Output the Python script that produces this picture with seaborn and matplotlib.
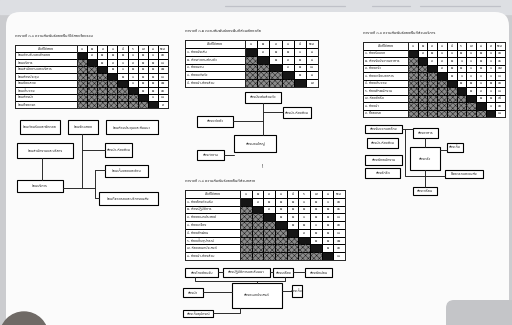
import numpy as np
import seaborn as sns
import matplotlib.pyplot as plt
from matplotlib import font_manager
from matplotlib.colors import ListedColormap
from matplotlib.patches import Rectangle, Circle, FancyBboxPatch

# ข้อมูลตาราง (ค่าความสัมพันธ์อ่านจากภาพโดยประมาณ)
t1_title = "ตารางที่ ๓.๑ ความสัมพันธ์ของพื้นที่ใช้สอยโดยรวม"
t1_labels = ["ส่วนต้อนรับและพักคอย", "ส่วนบริการ", "ส่วนสำนักงานและบริหาร", "ส่วนห้องประชุม",
             "ส่วนจัดแสดง", "ส่วนเก็บของ", "ส่วนห้องน้ำ", "ส่วนที่จอดรถ"]
t1_header = ["๑", "๒", "๓", "๔", "๕", "๖", "๗", "๘", "รวม"]
t1_rel = ["๓ ๒ ๒ ๒ ๑ ๒ ๑", "๒ ๓ ๑ ๓ ๒ ๒", "๒ ๑ ๒ ๒ ๒", "๒ ๑ ๒ ๒", "๑ ๒ ๒", "๒ ๒", "๑", ""]
t1_total = ["๑๓", "๑๔", "๑๒", "๑๑", "๑๒", "๑๓", "๑๐", "๙"]

t2_title = "ตารางที่ ๓.๒ ความสัมพันธ์ของพื้นที่ส่วนพักอาศัย"
t2_labels = ["๑. ห้องนั่งเล่น", "๒. ห้องทำงานส่วนตัว", "๓. ห้องนอน", "๔. ห้องแต่งตัว", "๕. ห้องน้ำ-ห้องส้วม"]
t2_header = ["๑", "๒", "๓", "๔", "๕", "รวม"]
t2_rel = ["๓ ๒ ๒ ๑", "๒ ๓ ๒", "๓ ๒", "๒", ""]
t2_total = ["๘", "๘", "๑๐", "๘", "๗"]

t3_title = "ตารางที่ ๓.๓ ความสัมพันธ์ของพื้นที่ส่วนบริการ"
t3_labels = ["๑. ห้องรับแขก", "๒. ห้องรับประทานอาหาร", "๓. ห้องครัว", "๔. ห้องเตรียมอาหาร", "๕. ห้องเก็บของ",
             "๖. ห้องพักพนักงาน", "๗. ห้องซักรีด", "๘. ห้องน้ำ", "๙. ที่จอดรถ"]
t3_header = ["๑", "๒", "๓", "๔", "๕", "๖", "๗", "๘", "๙", "รวม"]
t3_rel = ["๓ ๒ ๑ ๑ ๒ ๑ ๒ ๑", "๓ ๓ ๒ ๑ ๑ ๒ ๑", "๓ ๒ ๒ ๑ ๒ ๑", "๒ ๑ ๑ ๑ ๑", "๒ ๒ ๑ ๒",
          "๒ ๓ ๑", "๒ ๒", "๑", ""]
t3_total = ["๑๓", "๑๖", "๑๗", "๑๔", "๑๓", "๑๔", "๑๕", "๑๓", "๑๐"]

t4_title = "ตารางที่ ๓.๔ ความสัมพันธ์ของพื้นที่ส่วนกลาง"
t4_labels = ["๑. ห้องโถงต้อนรับ", "๒. ห้องปฏิบัติการ", "๓. ห้องอเนกประสงค์", "๔. ห้องเครื่อง",
             "๕. ห้องพักผ่อน", "๖. ห้องเก็บอุปกรณ์", "๗. ห้องเอนกประสงค์", "๘. ห้องน้ำ-ห้องส้วม"]
t4_header = ["๑", "๒", "๓", "๔", "๕", "๖", "๗", "๘", "รวม"]
t4_rel = ["๓ ๒ ๒ ๒ ๑ ๒ ๑", "๓ ๒ ๒ ๒ ๒ ๒", "๒ ๒ ๑ ๒ ๒", "๒ ๒ ๑ ๒", "๓ ๒ ๒", "๒ ๒", "๒", ""]
t4_total = ["๑๓", "๑๖", "๑๔", "๑๓", "๑๔", "๑๒", "๑๓", "๑๐"]

W, H = 512, 325
sns.set_style("white")


# หาฟอนต์ที่มีอักษรไทย
def find_thai_families():
    names = sorted({f.name for f in font_manager.fontManager.ttflist if "Thai" in f.name})
    if names:
        return names
    try:
        from fontTools.ttLib import TTFont
    except ImportError:
        return []
    found = []
    for f in font_manager.fontManager.ttflist:
        if f.name in found or "CJK" in f.name:
            continue
        try:
            if 0x0E01 in TTFont(f.fname, fontNumber=0, lazy=True).getBestCmap():
                found.append(f.name)
        except Exception:
            pass
    return found


thai = find_thai_families()
thai.sort(key=lambda s: (0 if s == "Noto Sans Thai" else 1, len(s)))
plt.rcParams['font.family'] = thai[:2] + ['Noto Sans', 'DejaVu Sans']
plt.rcParams['hatch.linewidth'] = 0.35

fig = plt.figure(figsize=(W / 100, H / 100), dpi=100)


def px_rect(x0, y0, x1, y1):
    return [x0 / W, 1 - y1 / H, (x1 - x0) / W, (y1 - y0) / H]


# พื้นหลังกระดาษ
bg = fig.add_axes([0, 0, 1, 1])
bg.set_xlim(0, W)
bg.set_ylim(H, 0)
bg.axis("off")
bg.add_patch(Rectangle((0, 0), W, H, color="#cbcccf"))
bg.add_patch(Rectangle((0, 0), W, 14, color="#dddfe3"))
for xa, xb in [(225, 345), (372, 410), (420, 500)]:
    bg.plot([xa, xb], [6, 6], color="#a3a5ae", lw=0.9, alpha=0.5)
bg.add_patch(FancyBboxPatch((6, 12), W - 9, H + 20, boxstyle="round,pad=0,rounding_size=14",
                            fc="#fbfbfb", ec="none"))
bg.add_patch(FancyBboxPatch((446, 300), 80, 40, boxstyle="round,pad=0,rounding_size=8",
                            fc="#c4c5c8", ec="none"))
bg.add_patch(Circle((24, 336), 24, color="#6f6a66"))


def draw_table(x0, y0, x1, y1, label_w, title, labels, header, rel, total):
    n = len(labels)
    bg.text(x0, y0 - 9, title, fontsize=2.9, fontweight="bold", va="center", ha="left")
    vals = np.zeros((n + 1, n + 1))
    annot = np.full((n + 1, n + 1), "", dtype=object)
    annot[0, :] = header
    for i in range(n):
        for j in range(n):
            if j == i:
                vals[i + 1, j] = 2
            elif j < i:
                vals[i + 1, j] = 1
        for k, c in enumerate(rel[i].split()):
            annot[i + 1, i + 1 + k] = c
        annot[i + 1, n] = total[i]

    lab_ax = fig.add_axes(px_rect(x0, y0, x0 + label_w, y1))
    num_ax = fig.add_axes(px_rect(x0 + label_w, y0, x1, y1))
    sns.heatmap(np.zeros((n + 1, 1)), ax=lab_ax, cmap=ListedColormap(["white"]), cbar=False,
                linewidths=0.45, linecolor="black", xticklabels=False, yticklabels=False)
    lab_ax.text(0.5, 0.5, "พื้นที่ใช้สอย", fontsize=2.6, fontweight="bold", ha="center", va="center")
    for i, lab in enumerate(labels):
        lab_ax.text(0.04, i + 1.5, lab, fontsize=2.6, fontweight="bold", ha="left", va="center")

    sns.heatmap(vals, ax=num_ax, cmap=ListedColormap(["white", "#8a8a8a", "#151515"]), vmin=0, vmax=2,
                annot=annot, fmt="", cbar=False, linewidths=0.45, linecolor="black",
                xticklabels=False, yticklabels=False,
                annot_kws={"fontsize": 2.6, "fontweight": "bold", "color": "black"})
    for i in range(n):
        for j in range(i):
            num_ax.add_patch(Rectangle((j, i + 1), 1, 1, fill=False, hatch="xxxxxx", lw=0,
                                       ec="#1e1e1e"))
    for ax in (lab_ax, num_ax):
        for s in ax.spines.values():
            s.set_visible(True)
            s.set_linewidth(0.7)


def draw_box(x0, y0, x1, y1, label):
    bg.add_patch(Rectangle((x0 + 1.2, y0 + 1.2), x1 - x0, y1 - y0, color="#1e1e1e", lw=0))
    bg.add_patch(Rectangle((x0, y0), x1 - x0, y1 - y0, fc="white", ec="black", lw=0.8))
    bg.text((x0 + x1) / 2, (y0 + y1) / 2, label, fontsize=2.7, fontweight="bold",
            ha="center", va="center")


def draw_links(segments):
    for seg in segments:
        xs, ys = zip(*seg)
        bg.plot(xs, ys, color="#2a2a2a", lw=0.7)


draw_table(15, 45, 168, 108, 62, t1_title, t1_labels, t1_header, t1_rel, t1_total)
draw_table(185, 40, 318, 87, 60, t2_title, t2_labels, t2_header, t2_rel, t2_total)
draw_table(363, 42, 505, 117, 45, t3_title, t3_labels, t3_header, t3_rel, t3_total)
draw_table(185, 190, 345, 260, 55, t4_title, t4_labels, t4_header, t4_rel, t4_total)

# แผนภูมิความสัมพันธ์ ๑
draw_links([[(82, 134), (82, 188)], [(82, 150), (105, 150)], [(63, 188), (95, 188)],
            [(95, 170), (95, 198)], [(95, 170), (105, 170)], [(95, 198), (99, 198)],
            [(42, 158), (42, 180)]])
for b in [(20, 120, 60, 134, "ส่วนต้อนรับและพักคอย"), (68, 120, 98, 134, "ส่วนจัดแสดง"),
          (106, 120, 158, 134, "ส่วนห้องประชุมและสัมมนา"), (17, 143, 73, 158, "ส่วนสำนักงานและบริหาร"),
          (105, 143, 132, 157, "ห้องน้ำ-ห้องส้วม"), (105, 165, 148, 177, "ส่วนเก็บของและซ่อม"),
          (17, 180, 63, 192, "ส่วนบริการ"), (99, 192, 158, 205, "ส่วนที่จอดรถและบริการขนส่ง")]:
    draw_box(*b)

# แผนภูมิความสัมพันธ์ ๒
draw_links([[(263, 103), (263, 135)], [(263, 112), (283, 112)], [(233, 121), (263, 121)],
            [(224, 155), (234, 155)]])
for b in [(245, 92, 281, 103, "ห้องนั่งเล่นส่วนตัว"), (283, 107, 311, 118, "ห้องน้ำ-ห้องส้วม"),
          (197, 116, 233, 127, "ห้องแต่งตัว"), (234, 135, 276, 152, "ห้องนอนใหญ่"),
          (197, 150, 224, 160, "ห้องทำงาน")]:
    draw_box(*b)
bg.text(262, 166, "!", fontsize=4, ha="center", va="center", color="#333333")

# แผนภูมิความสัมพันธ์ ๓
draw_links([[(402, 129), (413, 129)], [(405, 129), (405, 176), (445, 176)],
            [(425, 138), (425, 147)], [(440, 150), (447, 150)], [(425, 170), (425, 187)]])
for b in [(365, 125, 402, 133, "ห้องรับแขกและโถง"), (413, 128, 438, 138, "ห้องอาหาร"),
          (367, 138, 398, 148, "ห้องน้ำ-ห้องส้วม"), (410, 147, 440, 170, "ห้องครัว"),
          (447, 143, 463, 152, "ห้องเก็บ"), (365, 155, 402, 165, "ห้องพักพนักงาน"),
          (365, 168, 400, 178, "ห้องซักรีด"), (445, 170, 483, 178, "ที่จอดรถและขนส่ง"),
          (413, 187, 437, 195, "ห้องเตรียม")]:
    draw_box(*b)

# แผนภูมิความสัมพันธ์ ๔
draw_links([[(218, 272), (223, 272)], [(270, 272), (273, 272)], [(293, 272), (305, 272)],
            [(195, 277), (195, 281), (285, 281), (285, 277)], [(257, 281), (257, 283)],
            [(203, 292), (232, 292)], [(282, 291), (292, 291)], [(213, 313), (240, 313), (240, 308)]])
for b in [(185, 268, 218, 277, "ห้องโถงต้อนรับ"), (223, 268, 270, 277, "ห้องปฏิบัติการและสัมมนา"),
          (273, 268, 293, 277, "ห้องเครื่อง"), (305, 268, 332, 277, "ห้องพักผ่อน"),
          (183, 288, 203, 297, "ห้องน้ำ"), (232, 283, 282, 308, "ห้องอเนกประสงค์"),
          (292, 285, 302, 297, "ห้องเก็บ"), (183, 310, 213, 317, "ห้องเก็บอุปกรณ์")]:
    draw_box(*b)

fig.savefig("out.png", dpi=100)
